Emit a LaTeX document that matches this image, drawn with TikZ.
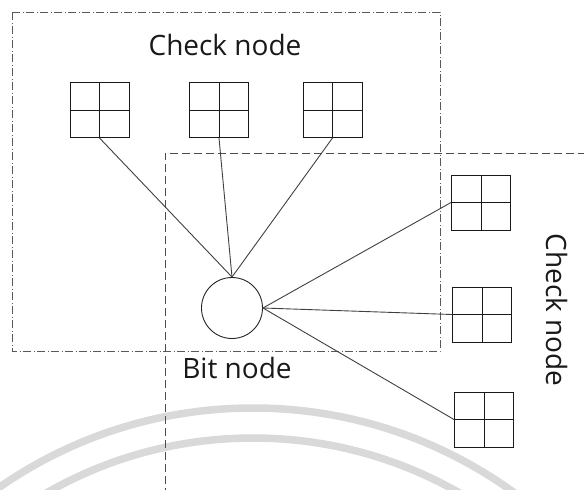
\documentclass[tikz,border=0pt]{standalone}
\usepackage{fontspec}
\setmainfont{Open Sans}
\begin{document}
\begin{tikzpicture}[x=1pt,y=-1pt,
  cell/.style={draw=black!90,line width=0.95pt,minimum width=59pt,minimum height=55pt,inner sep=0pt,
    path picture={\draw[black!90,line width=0.85pt] (path picture bounding box.north) -- (path picture bounding box.south)
      (path picture bounding box.west) -- (path picture bounding box.east);}},
  bitnode/.style={circle,draw=black!85,line width=0.9pt,minimum size=61pt,inner sep=0pt},
  link/.style={draw=black!75,line width=0.9pt},
  caption/.style={font=\fontsize{28}{33}\selectfont,text=black!90,inner sep=0pt},
  dashdot/.style={draw=black!65,line width=0.9pt,dash pattern=on 8pt off 2.5pt on 1pt off 2.5pt},
  dashbox/.style={draw=black!70,line width=0.9pt,dash pattern=on 8pt off 4pt},
  wmark/.style={draw=black!15,line width=7.5pt}]
\useasboundingbox (0,0) rectangle (584,490);
\begin{scope}
\clip (0,0) rectangle (584,490);
% faint watermark arcs
\draw[wmark] (253,853) circle[radius=445];
\draw[wmark] (253,853) circle[radius=415];
% region frames
\draw[dashdot] (12,12) rectangle (440,351);
\draw[dashbox] (165,520) -- (165,153) -- (600,153);
\end{scope}
% check nodes along the top
\node[cell] (t1) at (99.5,110) {};
\node[cell] (t2) at (219,110) {};
\node[cell] (t3) at (332.5,110) {};
% check nodes on the right
\node[cell] (r1) at (481,202.5) {};
\node[cell] (r2) at (482,314.5) {};
\node[cell] (r3) at (484,419.5) {};
% bit node
\node[bitnode] (bit) at (232,308) {};
% connections
\draw[link] (t1.south) -- (bit.north);
\draw[link] (t2.south) -- (bit.north);
\draw[link] (t3.south) -- (bit.north);
\draw[link] (bit.east) -- (r1.west);
\draw[link] (bit.east) -- (r2.west);
\draw[link] (bit.east) -- (r3.west);
% labels
\node[caption] (lt) at (225,45) {Check node};
\node[caption] (lb) at (237,368) {Bit node};
\node[caption,rotate=-90] (lr) at (557,310) {Check node};
\end{tikzpicture}
\end{document}
